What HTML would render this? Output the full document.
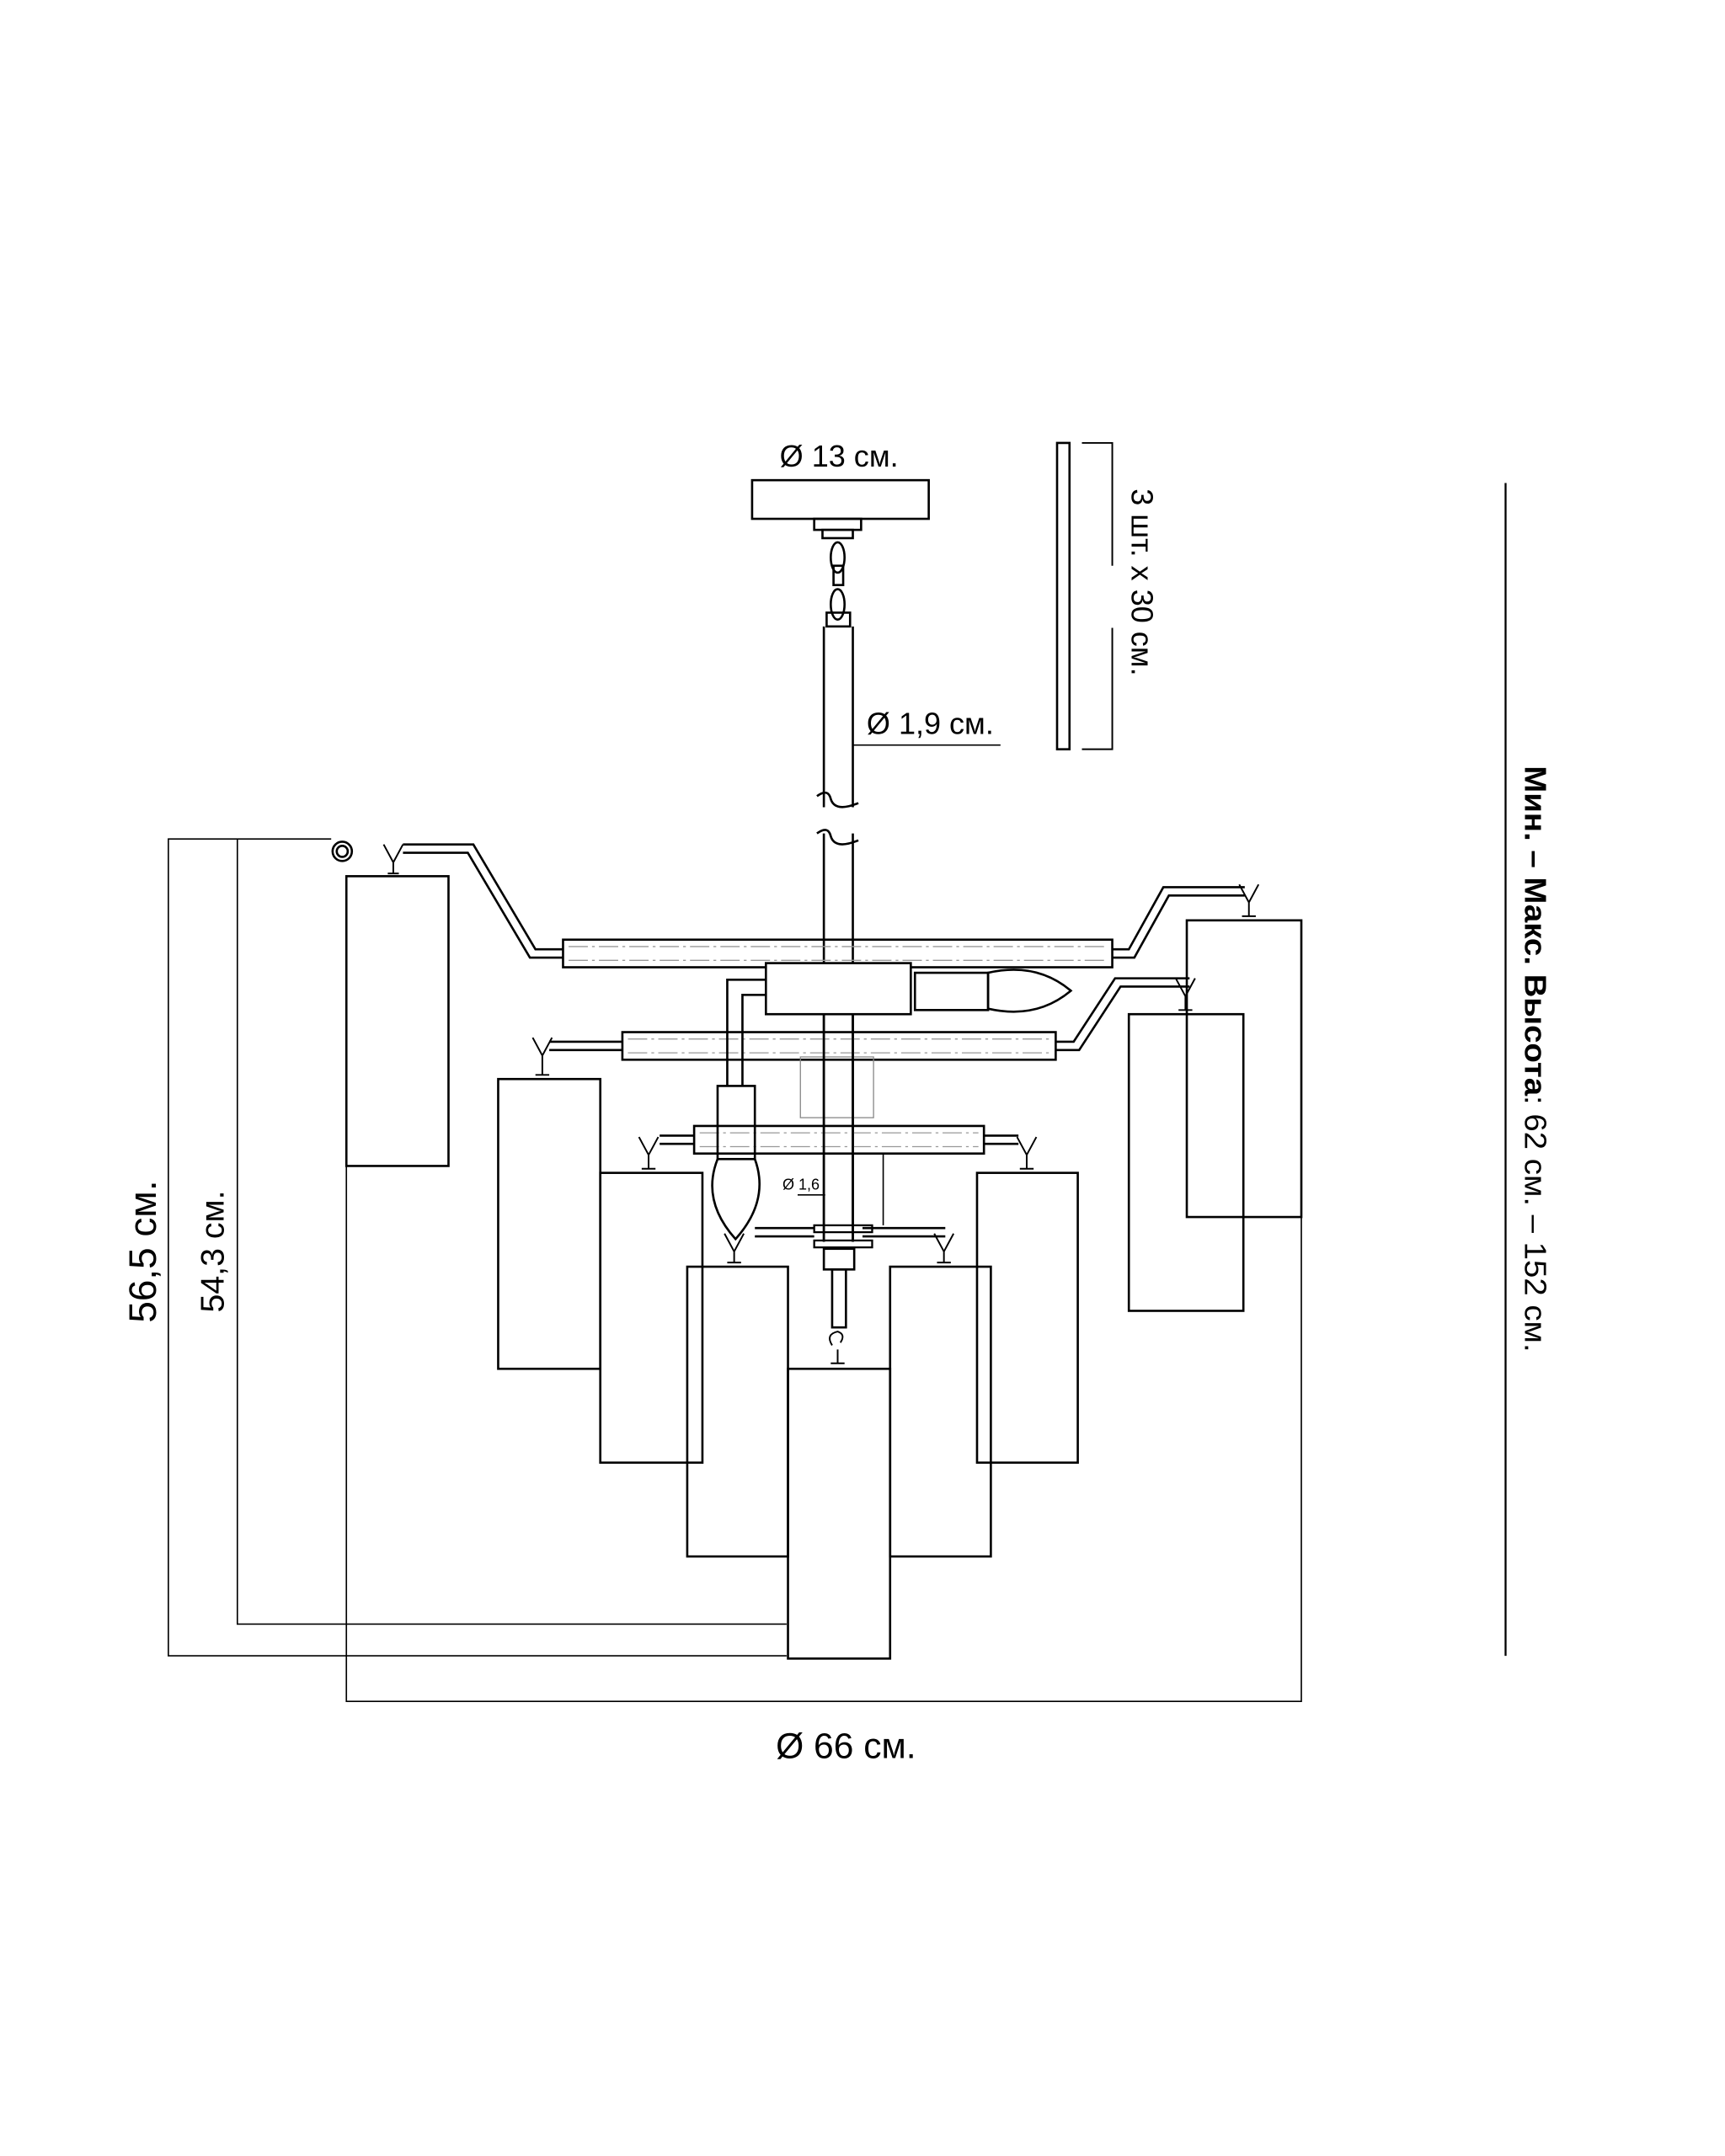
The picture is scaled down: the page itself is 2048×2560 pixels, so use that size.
<!DOCTYPE html>
<html><head><meta charset="utf-8"><style>html,body{margin:0;padding:0;background:#fff}svg{display:block}</style></head>
<body>
<svg width="2048" height="2560" viewBox="0 0 1250 1562.5" xmlns="http://www.w3.org/2000/svg" font-family="Liberation Sans, sans-serif">
<rect width="1250" height="1562.5" fill="#fff"/>
<g fill="none" stroke="#000" stroke-width="1.6">
<!-- canopy -->
<rect x="545" y="348" width="128" height="28"/>
<rect x="590" y="376" width="34" height="8"/>
<rect x="596" y="384" width="22" height="6"/>
<ellipse cx="607" cy="404" rx="5" ry="11"/>
<rect x="604" y="410" width="7" height="14"/>
<ellipse cx="607" cy="438" rx="5" ry="11"/>
<rect x="599" y="444" width="17" height="10"/>
<!-- rod -->
<path d="M597 454 V585 M618 454 V585 M592 577 q8 -6 10 2 q3 10 20 3 M592 604 q8 -6 10 2 q3 10 20 3 M597 604 V900 M618 604 V900"/>
<path d="M618 540 H725" stroke-width="1"/>
<!-- rods bracket -->
<rect x="766" y="321" width="9" height="222"/>
<path d="M784 321 H806 V410 M806 455 V543 H784" stroke-width="1.2"/>
<!-- right line -->
<path d="M1091 350 V1200" stroke-width="1.4"/>
<!-- left dims -->
<path d="M240 608 H122 V1200 H570 M240 608 H172 V1177 H570" stroke-width="1"/>
<circle cx="248" cy="617" r="7"/><circle cx="248" cy="617" r="4"/>
<!-- bottom dim -->
<path d="M251 845 V1233 H943 V882" stroke-width="1"/>
<!-- shades -->
<rect x="251" y="635" width="74" height="210"/>
<rect x="361" y="782" width="74" height="210"/>
<rect x="435" y="850" width="74" height="210"/>
<rect x="498" y="918" width="73" height="210"/>
<rect x="571" y="992" width="74" height="210"/>
<rect x="645" y="918" width="73" height="210"/>
<rect x="708" y="850" width="73" height="210"/>
<rect x="818" y="735" width="83" height="215"/>
<rect x="860" y="667" width="83" height="215"/>
<!-- arms top -->
<path d="M408 688 H388 L343 612 H292 M408 694 H384 L339 618 H292"/>
<path d="M806 688 H818 L843 643 H902 M806 694 H822 L847 649 H902"/>
<path d="M451 755 H398 M451 761 H398"/>
<path d="M765 755 H778 L808 709 H862 M765 761 H782 L812 715 H862"/>
<path d="M503 823 H478 M503 829 H478 M713 823 H738 M713 829 H738"/>
<path d="M547 890 H590 M547 896 H590 M625 890 H685 M625 896 H685"/>
<!-- hooks -->
<g stroke-width="1.2">
<path d="M278 612 l7 13 l7 -13 M285 625 v8 M281 633 h8"/>
<path d="M898 641 l7 13 l7 -13 M905 654 v10 M900 664 h10"/>
<path d="M852 709 l7 13 l7 -13 M859 722 v10 M854 732 h10"/>
<path d="M386 752 l7 13 l7 -13 M393 765 v14 M388 779 h10"/>
<path d="M463 824 l7 13 l7 -13 M470 837 v10 M465 847 h10"/>
<path d="M737 824 l7 13 l7 -13 M744 837 v10 M739 847 h10"/>
<path d="M525 894 l7 13 l7 -13 M532 907 v8 M527 915 h10"/>
<path d="M677 894 l7 13 l7 -13 M684 907 v8 M679 915 h10"/>
<path d="M603 975 q-5 -8 4 -10 q6 2 2 8 M607 978 v10 M602 988 h10"/>
</g>
<!-- bars -->
<rect x="408" y="681" width="398" height="20"/>
<rect x="451" y="748" width="314" height="20"/>
<rect x="503" y="816" width="210" height="20"/>
<g stroke="#999" stroke-width="0.8" stroke-dasharray="14 3 2 3">
<path d="M412 686 H802 M412 696 H802 M455 753 H761 M455 763 H761 M507 821 H709 M507 831 H709"/>
</g>
<rect x="580" y="766" width="53" height="44" stroke="#888" stroke-width="0.8"/>
<!-- box & bulbs -->
<rect x="555" y="698" width="105" height="37" fill="#fff"/>
<path d="M597 735 V900 M618 735 V900"/>
<path d="M555 710 H527 V787 M555 721 H538 V787"/>
<rect x="520" y="787" width="27" height="53"/>
<path d="M520 840 q-12 30 13 58 q25 -28 14 -58"/>
<rect x="663" y="705" width="53" height="27"/>
<path d="M716 705 q35 -8 60 13 q-25 21 -60 13 Z"/>
<!-- bottom hub -->
<rect x="590" y="888" width="42" height="5" stroke-width="1.4"/>
<rect x="590" y="899" width="42" height="5" stroke-width="1.4"/>
<rect x="597" y="905" width="22" height="15"/>
<rect x="603" y="920" width="10" height="42"/>
<path d="M640 836 V888" stroke-width="1"/>
<path d="M578 866 H598" stroke-width="1"/>
</g>
<g fill="#000">
<text x="608" y="338" font-size="22" text-anchor="middle">Ø 13 см.</text>
<text x="628" y="532" font-size="22">Ø 1,9 см.</text>
<text x="567" y="862" font-size="11">Ø 1,6</text>
<text x="613" y="1274" font-size="26" text-anchor="middle">Ø 66 см.</text>
<text transform="translate(113 907) rotate(-90)" font-size="28" text-anchor="middle">56,5 см.</text>
<text transform="translate(162 907) rotate(-90)" font-size="24" text-anchor="middle">54,3 см.</text>
<text transform="translate(820 422) rotate(90)" font-size="22" text-anchor="middle">3 шт. х 30 см.</text>
<text transform="translate(1105 555) rotate(90)" font-size="22" textLength="425" lengthAdjust="spacingAndGlyphs"><tspan font-weight="bold">Мин. – Макс. Высота</tspan>: 62 см. – 152 см.</text>
</g>
</svg>
</body></html>
